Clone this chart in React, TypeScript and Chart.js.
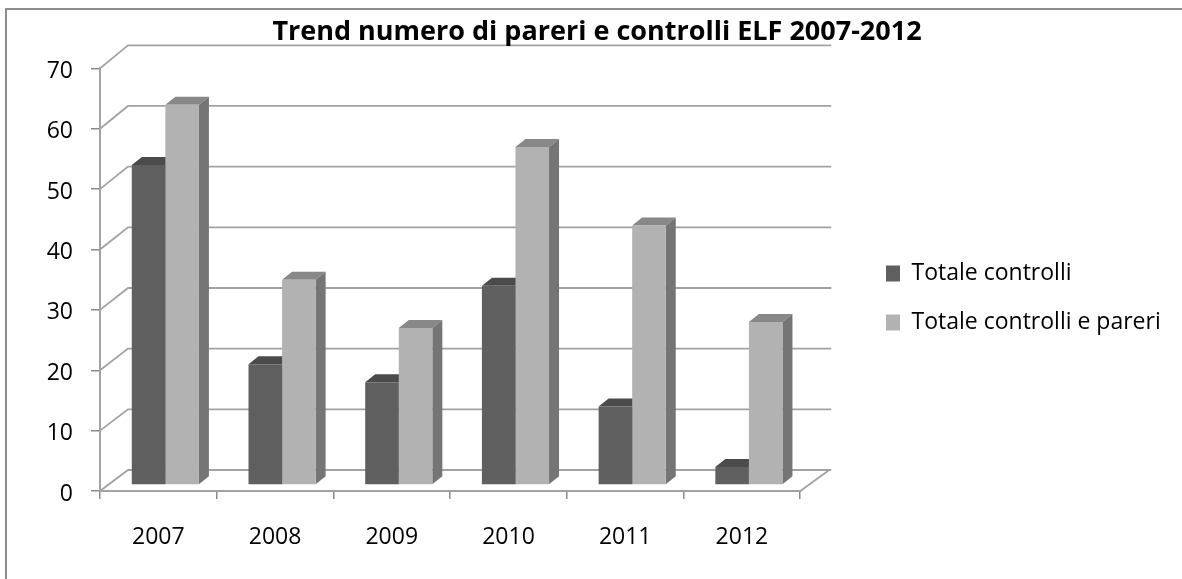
import React, { useEffect, useRef } from "react";
import { Chart, registerables } from "chart.js";

Chart.register(...registerables);

const categories = ["2007", "2008", "2009", "2010", "2011", "2012"];
const totaleControlli = [53, 20, 17, 33, 13, 3];
const totaleControlliPareri = [63, 34, 26, 56, 43, 27];
const yTicks = [0, 10, 20, 30, 40, 50, 60, 70];

const FONT = '"Open Sans", sans-serif';
const depthX = 28;
const depthY = -21;
const backStretch = 1.005;
const barShiftX = 7;
const barShiftY = -6;
const sideX = 10;
const sideY = -8;
const yLabelDrop = 3;

const faces = [
  { top: "#4b4b4b", side: "#474747" },
  { top: "#888888", side: "#757575" },
];

const scene3d = {
  id: "scene3d",
  afterLayout(chart: any) {
    const t = chart.titleBlock;
    t.left = 12;
    t.right = 1182;
    const l = chart.legend;
    const h = l.bottom - l.top;
    l.left = 860;
    l.right = 1182;
    l.top = 298 - h / 2;
    l.bottom = l.top + h;
  },
  beforeDraw(chart: any) {
    const { ctx, scales } = chart;
    const y = scales.y;
    const x = scales.x;
    const left = x.left;
    const right = x.right;
    y.getLabelItems(chart.chartArea).forEach((item: any) => {
      if (!item.dropped) {
        item.dropped = true;
        item.options.translation[1] += yLabelDrop;
      }
    });
    ctx.save();
    ctx.fillStyle = "#ffffff";
    ctx.fillRect(0, 0, chart.width, chart.height);
    ctx.strokeStyle = "#8e8e8e";
    ctx.lineWidth = 2;
    ctx.strokeRect(6, 9, 1400, 800);
    ctx.strokeStyle = "#a2a2a2";
    ctx.lineWidth = 1.8;
    const y0 = y.getPixelForValue(0);
    yTicks.forEach((v) => {
      const py = y.getPixelForValue(v);
      const back = y0 + depthY + (py - y0) * backStretch;
      ctx.beginPath();
      ctx.moveTo(left, py);
      ctx.lineTo(left + depthX, back);
      ctx.lineTo(right + depthX + 3, back);
      ctx.stroke();
    });
    ctx.beginPath();
    ctx.moveTo(right, y0);
    ctx.lineTo(right + depthX + 1, y0 + depthY);
    ctx.stroke();
    ctx.restore();
  },
  beforeDatasetsDraw(chart: any) {
    const { ctx } = chart;
    ctx.save();
    ctx.translate(barShiftX, barShiftY);
    [0, 1].forEach((di) => {
      chart.getDatasetMeta(di).data.forEach((bar: any) => {
        const x0 = bar.x - bar.width / 2;
        const x1 = bar.x + bar.width / 2;
        ctx.fillStyle = faces[di].top;
        ctx.beginPath();
        ctx.moveTo(x0, bar.y);
        ctx.lineTo(x0 + sideX, bar.y + sideY);
        ctx.lineTo(x1 + sideX, bar.y + sideY);
        ctx.lineTo(x1, bar.y);
        ctx.closePath();
        ctx.fill();
        ctx.fillStyle = faces[di].side;
        ctx.beginPath();
        ctx.moveTo(x1, bar.y);
        ctx.lineTo(x1 + sideX, bar.y + sideY);
        ctx.lineTo(x1 + sideX, bar.base + sideY);
        ctx.lineTo(x1, bar.base);
        ctx.closePath();
        ctx.fill();
      });
    });
  },
  afterDatasetsDraw(chart: any) {
    chart.ctx.restore();
  },
};

export default function App() {
  const ref = useRef<HTMLCanvasElement>(null);
  useEffect(() => {
    const chart = new Chart(ref.current as HTMLCanvasElement, {
      type: "bar",
      data: {
        labels: categories,
        datasets: [
          { label: "Totale controlli", data: totaleControlli, backgroundColor: "#5f5f5f" },
          { label: "Totale controlli e pareri", data: totaleControlliPareri, backgroundColor: "#b2b2b2" },
        ],
      },
      options: {
        animation: false,
        responsive: false,
        devicePixelRatio: 1,
        layout: { padding: { left: 12, right: 119, top: 16, bottom: 0 } },
        datasets: { bar: { categoryPercentage: 0.575, barPercentage: 1 } },
        plugins: {
          tooltip: { enabled: false },
          title: {
            display: true,
            text: "Trend numero di pareri e controlli ELF 2007-2012",
            color: "#000000",
            font: { family: FONT, size: 27, weight: "bold" },
            padding: { top: 0, bottom: 20 },
          },
          legend: {
            display: true,
            position: "right",
            labels: {
              color: "#000000",
              font: { family: FONT, size: 23 },
              boxWidth: 14,
              boxHeight: 16,
              padding: 26,
            },
          },
        },
        scales: {
          x: {
            grid: { drawOnChartArea: false, drawTicks: true, tickLength: 8, color: "#8a8a8a", lineWidth: 1.5 },
            border: { color: "#a2a2a2", width: 2 },
            ticks: { color: "#000000", font: { family: FONT, size: 23 }, padding: 25, maxRotation: 0 },
            afterFit: (s: any) => { s.height = 88; },
          },
          y: {
            min: 0,
            max: 70,
            afterBuildTicks: (s: any) => { s.ticks = yTicks.map((value) => ({ value })); },
            grid: { drawOnChartArea: false, drawTicks: true, tickLength: 9, color: "#8a8a8a", lineWidth: 1.5 },
            border: { color: "#a2a2a2", width: 2 },
            ticks: { color: "#000000", font: { family: FONT, size: 23 }, padding: 18 },
            afterFit: (s: any) => { s.width = 88; },
          },
        },
      },
      plugins: [scene3d],
    } as any);
    return () => chart.destroy();
  }, []);
  return (
    <div style={{ position: "fixed", left: 0, top: 0, width: 1182, height: 579, overflow: "hidden", background: "#fff" }}>
      <canvas ref={ref} width={1182} height={579} style={{ display: "block", width: 1182, height: 579, filter: "blur(0.4px)" }} />
    </div>
  );
}
